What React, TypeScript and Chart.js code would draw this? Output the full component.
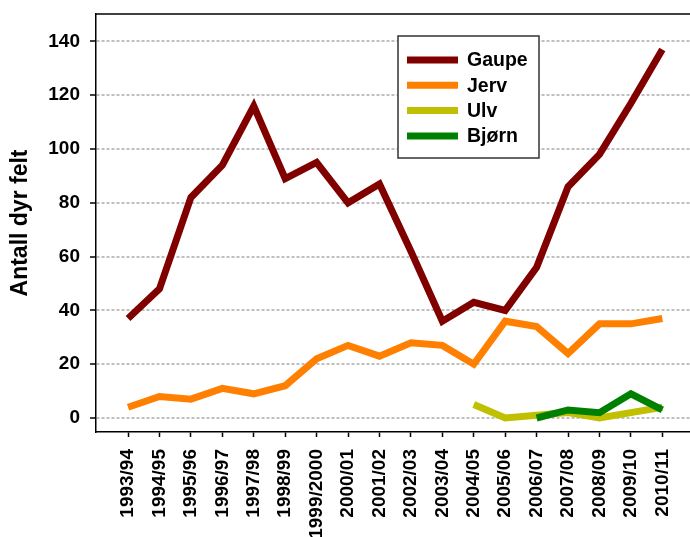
import React, { useEffect, useRef } from "react";
import { Chart, registerables } from "chart.js";

Chart.register(...registerables);

const seasons = [
  "1993/94", "1994/95", "1995/96", "1996/97", "1997/98", "1998/99", "1999/2000",
  "2000/01", "2001/02", "2002/03", "2003/04", "2004/05", "2005/06", "2006/07",
  "2007/08", "2008/09", "2009/10", "2010/11",
];
const gaupe = [37, 48, 82, 94, 116, 89, 95, 80, 87, 62, 36, 43, 40, 56, 86, 98, 117, 137];
const jerv = [4, 8, 7, 11, 9, 12, 22, 27, 23, 28, 27, 20, 36, 34, 24, 35, 35, 37];
const ulv = [null, null, null, null, null, null, null, null, null, null, null, 5, 0, 1, 2, 0, 2, 4];
const bjorn = [null, null, null, null, null, null, null, null, null, null, null, null, null, 0, 3, 2, 9, 3];
const yTicks = [0, 20, 40, 60, 80, 100, 120, 140];
const yTitle = "Antall dyr felt";

const FONT = "'Liberation Sans', Arial, Helvetica, sans-serif";

const toPts = (arr: (number | null)[]) => arr.map((v, i) => ({ x: i, y: v }));

const boxPlugin = {
  id: "boxPlugin",
  beforeDatasetsDraw(chart: any) {
    const { ctx, chartArea } = chart;
    ctx.save();
    ctx.strokeStyle = "#000";
    ctx.lineWidth = 1.5;
    ctx.beginPath();
    ctx.moveTo(chartArea.left, chartArea.top);
    ctx.lineTo(chartArea.right, chartArea.top);
    ctx.stroke();
    ctx.restore();
  },
  afterDraw(chart: any) {
    const { ctx } = chart;
    const x0 = 398, y0 = 36, w = 141, h = 122;
    ctx.save();
    ctx.fillStyle = "#fff";
    ctx.fillRect(x0, y0, w, h);
    ctx.strokeStyle = "#333";
    ctx.lineWidth = 1.5;
    ctx.strokeRect(x0, y0, w, h);
    const dsList = chart.data.datasets;
    dsList.forEach((ds: any, i: number) => {
      const cy = 60 + i * 25.3;
      ctx.strokeStyle = ds.borderColor;
      ctx.lineWidth = 7;
      ctx.lineCap = "butt";
      ctx.beginPath();
      ctx.moveTo(407, cy);
      ctx.lineTo(458, cy);
      ctx.stroke();
      ctx.fillStyle = "#000";
      ctx.font = `bold 19.5px ${FONT}`;
      ctx.textBaseline = "middle";
      ctx.textAlign = "left";
      ctx.fillText(ds.label, 467, cy + 1);
    });
    ctx.restore();
  },
};

export default function App() {
  const ref = useRef<HTMLCanvasElement | null>(null);
  useEffect(() => {
    if (!ref.current) return;
    const mk = (label: string, data: (number | null)[], color: string, order: number) => ({
      label,
      data: toPts(data),
      borderColor: color,
      backgroundColor: color,
      borderWidth: 7,
      pointRadius: 0,
      borderJoinStyle: "miter" as const,
      borderCapStyle: "butt" as const,
      tension: 0,
      spanGaps: false,
      order,
    });
    const chart = new Chart(ref.current, {
      type: "line",
      data: {
        datasets: [
          mk("Gaupe", gaupe, "#800000", 4),
          mk("Jerv", jerv, "#ff8000", 3),
          mk("Ulv", ulv, "#c0c000", 2),
          mk("Bjørn", bjorn, "#008000", 1),
        ],
      },
      options: {
        animation: false,
        responsive: false,
        devicePixelRatio: 1,
        layout: { padding: { top: 14, left: 0, right: 0, bottom: 0 } },
        plugins: { legend: { display: false }, tooltip: { enabled: false } },
        scales: {
          x: {
            type: "linear",
            min: -1.02,
            max: 17.88,
            afterBuildTicks: (s: any) => {
              s.ticks = seasons.map((_, i) => ({ value: i }));
            },
            afterFit: (s: any) => {
              s.height = 105;
              s.paddingLeft = 0;
              s.paddingRight = 0;
              s.paddingTop = 0;
              s.paddingBottom = 0;
            },
            grid: {
              drawOnChartArea: false,
              drawTicks: true,
              tickLength: 5,
              tickColor: "#000",
              tickWidth: 1.5,
            },
            border: { display: true, color: "#000", width: 1.5 },
            ticks: {
              autoSkip: false,
              minRotation: 90,
              maxRotation: 90,
              padding: 12,
              color: "#000",
              font: { family: FONT, size: 19, weight: "bold" },
              callback: (v: any) => seasons[v] ?? "",
            },
          },
          y: {
            type: "linear",
            min: -5.2,
            max: 150.2,
            afterBuildTicks: (s: any) => {
              s.ticks = yTicks.map((v) => ({ value: v }));
            },
            afterFit: (s: any) => {
              s.width = 96;
              s.paddingLeft = 0;
              s.paddingRight = 0;
              s.paddingTop = 0;
              s.paddingBottom = 0;
            },
            grid: {
              drawOnChartArea: true,
              color: "#bfbfbf",
              lineWidth: 2,
              drawTicks: true,
              tickLength: 6,
              tickColor: "#000",
              tickWidth: 1.5,
              tickBorderDash: [],
            } as any,
            border: { display: true, color: "#000", width: 1.5, dash: [3, 2] },
            ticks: {
              padding: 10,
              color: "#000",
              font: { family: FONT, size: 19, weight: "bold" },
            },
            title: {
              display: true,
              text: yTitle,
              color: "#000",
              padding: { top: 7, bottom: 0 },
              font: { family: FONT, size: 23, weight: "bold" },
            },
          },
        },
      },
      plugins: [boxPlugin],
    });
    return () => chart.destroy();
  }, []);
  return (
    <div style={{ position: "fixed", left: 0, top: 0, width: 690, height: 537, background: "#fff" }}>
      <canvas ref={ref} width={690} height={537} style={{ width: 690, height: 537, display: "block" }} />
    </div>
  );
}
